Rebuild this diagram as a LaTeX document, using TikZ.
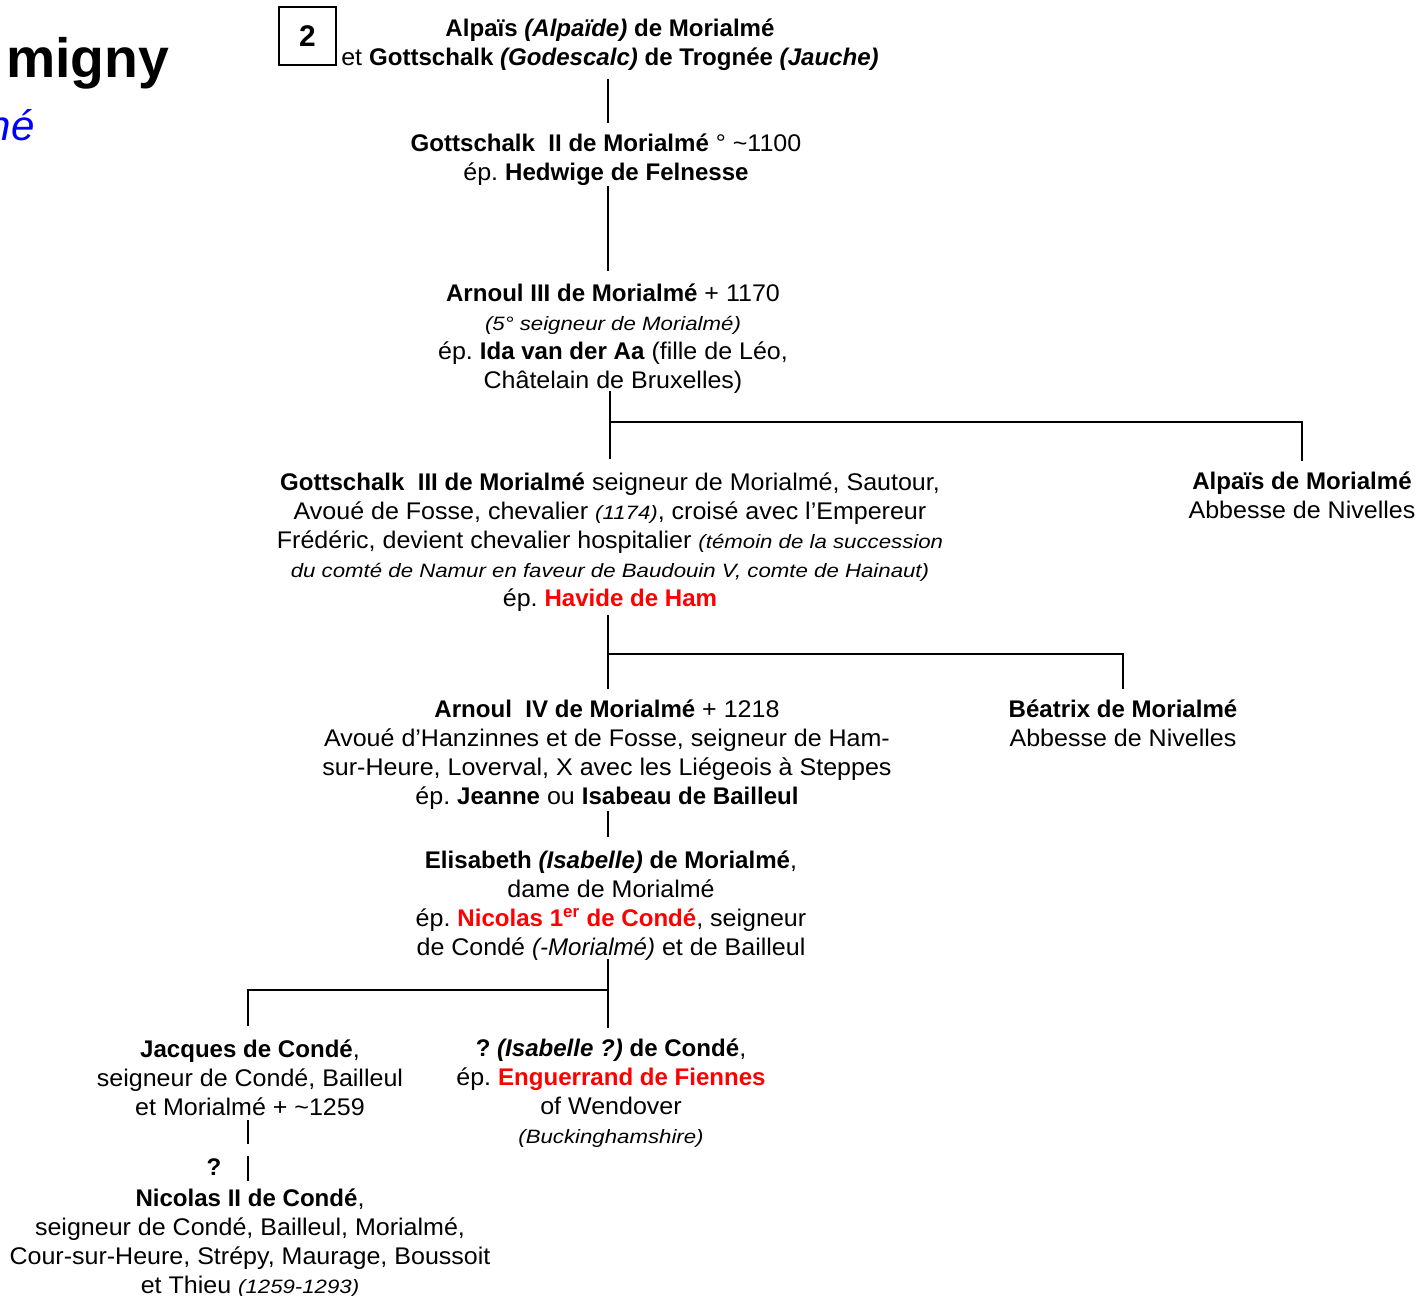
\documentclass[tikz,border=0pt]{standalone}
\usepackage{fontspec}
\setmainfont{Liberation Sans}[UprightFeatures={FakeStretch=1.04}]
\newfontfamily\petfont{Liberation Sans}[FakeStretch=1.15]
\usetikzlibrary{positioning}
\frenchspacing
\definecolor{rouge}{HTML}{FF0000}
\definecolor{bleu}{HTML}{0000FF}
\newcommand{\pet}[1]{{\petfont\fontsize{11}{16.5}\selectfont\itshape #1}}
\newcommand{\conj}[1]{\textcolor{rouge}{\bfseries #1}}
\tikzset{
  perso/.style={align=center,inner sep=0pt,font=\fontsize{13.7}{16.5}\selectfont,
    execute at begin node=\strut,execute at end node=\strut},
  lien/.style={line width=1.1pt},
  barre/.style={line width=1.6pt},
  numbox/.style={draw,line width=0.6pt,minimum width=1.14cm,minimum height=1.16cm,
    inner sep=0pt,font=\bfseries\fontsize{17}{20}\selectfont},
}

\begin{document}
\begin{tikzpicture}[x=0.02cm,y=-0.02cm]
  \useasboundingbox (0,0) rectangle (1428,1296);
  % en-tete
  \node[anchor=base west,font=\bfseries\fontsize{31.5}{38}\selectfont] (titre) at (0,77) {migny};
  \node[anchor=base east,text=bleu,font=\itshape\fontsize{24}{29}\selectfont] (soustitre) at (41,140) {né};
  \node[numbox] (num) at (307.5,36) {\raisebox{-0.05cm}{2}};
  % generations
  \node[perso] (souche) at (610,47) {\textbf{Alpaïs \textit{(Alpaïde)} de Morialmé}\\
    et \textbf{Gottschalk \textit{(Godescalc)} de Trognée \textit{(Jauche)}}};
  \node[perso] (gott2) at (606,161.5) {\textbf{Gottschalk\ \ II de Morialmé} ° \textasciitilde1100\\
    ép. \textbf{Hedwige de Felnesse}};
  \node[perso] (arnoul3) at (613,340.5) {\textbf{Arnoul III de Morialmé} + 1170\\
    \pet{(5° seigneur de Morialmé)}\\
    ép. \textbf{Ida van der Aa} (fille de Léo,\\
    Châtelain\ de\ Bruxelles)};
  \node[perso] (gott3) at (610,543.5) {\textbf{Gottschalk\ \ III de Morialmé} seigneur de Morialmé, Sautour,\\
    Avoué de Fosse, chevalier \pet{(1174)}, croisé avec l’Empereur\\
    Frédéric, devient chevalier hospitalier \pet{(témoin de la succession}\\
    \pet{du comté de Namur en faveur de Baudouin V, comte de Hainaut)}\\
    ép. \conj{Havide de Ham}};
  \node[perso] (alpais) at (1302,499.5) {\textbf{Alpaïs de Morialmé}\\
    Abbesse\ de\ Nivelles};
  \node[perso] (arnoul4) at (607,756.5) {\textbf{Arnoul\ \ IV de Morialmé} + 1218\\
    Avoué d’Hanzinnes et de Fosse, seigneur de Ham-\\
    sur-Heure, Loverval, X avec les Liégeois à Steppes\\
    ép. \textbf{Jeanne} ou \textbf{Isabeau de Bailleul}};
  \node[perso] (beatrix) at (1123,728) {\textbf{Béatrix de Morialmé}\\
    Abbesse\ de\ Nivelles};
  \node[perso] (elisabeth) at (611,907.5) {\textbf{Elisabeth \textit{(Isabelle)} de Morialmé},\\
    dame\ de\ Morialmé\\
    ép. \conj{Nicolas 1\textsuperscript{er} de Condé}, seigneur\\
    de Condé \textit{(-Morialmé)} et de Bailleul};
  \node[perso] (jacques) at (250,1082) {\textbf{Jacques de Condé},\\
    seigneur de Condé, Bailleul\\
    et Morialmé + \textasciitilde1259};
  \node[perso] (isabelle) at (611,1095.5) {\textbf{? \textit{(Isabelle ?)} de Condé},\\
    ép. \conj{Enguerrand de Fiennes}\\
    of Wendover\\
    \pet{(Buckinghamshire)}};
  \node[perso] (nicolas2) at (250,1245.5) {\textbf{Nicolas II de Condé},\\
    seigneur\ de\ Condé, Bailleul, Morialmé,\\
    Cour-sur-Heure, Strépy, Maurage, Boussoit\\
    et Thieu \pet{(1259-1293)}};
  \node[perso,font=\bfseries\fontsize{13.7}{16.5}\selectfont] (doute) at (214,1170) {?};
  % jonctions
  \coordinate (xa) at (608,0);
  \coordinate (xb) at (248,0);
  \coordinate (j1) at (610,422);
  \coordinate (j2) at (608,654);
  \coordinate (j3) at (608,990);
  % liens
  \draw[lien] ([yshift=-0.08cm]souche.south -| xa) -- ([yshift=0.21cm]gott2.north -| xa);
  \draw[lien] ([yshift=0.07cm]gott2.south -| xa) -- ([yshift=0.25cm]arnoul3.north -| xa);
  \draw[lien] ([yshift=0.13cm]arnoul3.south -| j1) -- ([yshift=0.26cm]gott3.north -| j1);
  \draw[barre] (j1) -| ([yshift=0.21cm]alpais.north);
  \draw[lien] (gott3.south -| j2) -- ([yshift=0.21cm]arnoul4.north -| j2);
  \draw[barre] (j2) -| ([yshift=0.22cm]beatrix.north);
  \draw[lien] ([yshift=0.05cm]arnoul4.south -| j3) -- ([yshift=0.27cm]elisabeth.north -| j3);
  \draw[lien] ([yshift=0.11cm]elisabeth.south -| j3) -- ([yshift=0.21cm]isabelle.north -| j3);
  \draw[barre] (j3) -| ([yshift=0.27cm]jacques.north -| xb);
  \draw[lien] ([yshift=0.09cm]jacques.south -| xb) -- ++(0,24);
  \draw[lien] ([yshift=0.15cm]nicolas2.north -| xb) -- ++(0,-25);
\end{tikzpicture}
\end{document}
